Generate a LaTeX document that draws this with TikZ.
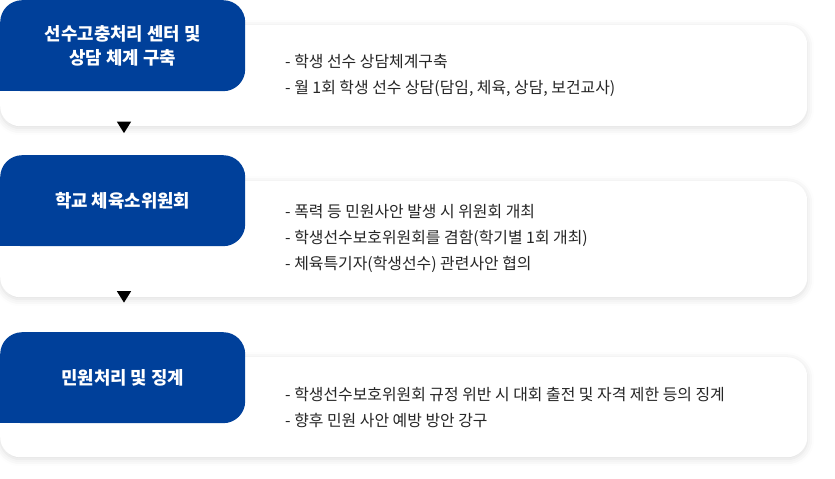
\documentclass[tikz,border=0pt]{standalone}
\usepackage{fontspec}
\setmainfont{Noto Sans CJK KR}
\usetikzlibrary{shadows.blur,shapes.geometric}
\definecolor{navy}{RGB}{0,64,154}
\begin{document}
\begin{tikzpicture}[x=1pt,y=-1pt,
  card/.style={fill=white, rounded corners=20pt, minimum width=807pt, anchor=north west, inner sep=0pt,
    blur shadow={shadow xshift=0pt, shadow yshift=-2pt, shadow blur radius=7pt, shadow opacity=14}},
  tab/.style={fill=navy, rounded corners=22pt, minimum width=245pt, minimum height=91pt, anchor=north west,
    inner sep=0pt, text=white, font=\fontsize{17.8}{25.5}\selectfont\bfseries, align=center},
  items/.style={anchor=west, align=left, inner sep=0pt, text=black!85, font=\fontsize{15.9}{26}\selectfont},
  tri/.style={isosceles triangle, shape border rotate=-90, isosceles triangle apex angle=64,
    fill=black, inner sep=0pt, minimum width=14pt, minimum height=11.5pt}]
\useasboundingbox (0,0) rectangle (835,479);
% cards
\node[card, minimum height=101pt] (c1) at (0,25) {};
\node[card, minimum height=116pt] (c2) at (0,181) {};
\node[card, minimum height=100pt] (c3) at (0,357) {};
% tabs
\node[tab] (t1) at (0,0) {\raisebox{-1pt}{선수고충처리 센터 및}\\상담 체계 구축};
\fill[navy] (t1.south west) rectangle ++(24,-24);
\node[tab] (t2) at (0,155) {\raisebox{-2pt}{학교 체육소위원회}};
\fill[navy] (t2.south west) rectangle ++(24,-24);
\node[tab] (t3) at (0,332) {\raisebox{-3pt}{민원처리 및 징계}};
\fill[navy] (t3.south west) rectangle ++(24,-24);
% item texts
\node[items] (i1) at (285,75) {- 학생 선수 상담체계구축\\- 월 1회 학생 선수 상담(담임, 체육, 상담, 보건교사)};
\node[items] (i2) at (285,238) {- 폭력 등 민원사안 발생 시 위원회 개최\\- 학생선수보호위원회를 겸함(학기별 1회 개최)\\- 체육특기자(학생선수) 관련사안 협의};
\node[items] (i3) at (285,408) {- 학생선수보호위원회 규정 위반 시 대회 출전 및 자격 제한 등의 징계\\- 향후 민원 사안 예방 방안 강구};
% arrows
\node[tri, anchor=apex] (a1) at (124,133.5) {};
\node[tri, anchor=apex] (a2) at (124,303) {};
\end{tikzpicture}
\end{document}
